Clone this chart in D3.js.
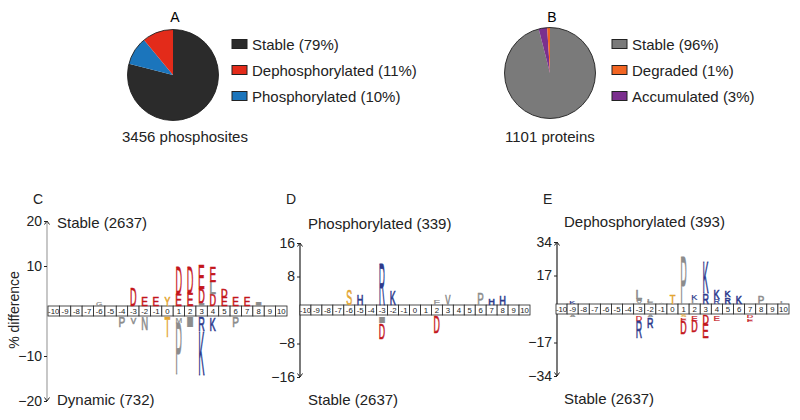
<!DOCTYPE html>
<html><head><meta charset="utf-8">
<script src="https://cdn.jsdelivr.net/npm/d3@7"></script>
<style>body{margin:0;background:#fff}svg{display:block}text{font-family:"Liberation Sans",Arial,sans-serif}</style>
</head><body><svg id="c" width="800" height="420"></svg>
<script>
// ---------- data ----------
const pieALabels = ["Stable (79%)", "Dephosphorylated (11%)", "Phosphorylated (10%)"];
const pieAValues = [79, 11, 10];
const pieAColors = ["#2b2b2b", "#e32b1a", "#1b75bc"];
const pieACaption = "3456 phosphosites";
const pieBLabels = ["Stable (96%)", "Degraded (1%)", "Accumulated (3%)"];
const pieBValues = [96, 1, 3];
const pieBColors = ["#7a7a7a", "#f26522", "#7b2f8e"];
const pieBCaption = "1101 proteins";
const pieOrder = [0, 2, 1]; // clockwise drawing order from 12 o'clock

const positions = [-10,-9,-8,-7,-6,-5,-4,-3,-2,-1,0,1,2,3,4,5,6,7,8,9,10];

// panel C: letters listed from the central row outward (value in % difference)
const cUp = [
  {pos:-6,res:"G",v:0.9},{pos:-3,res:"D",v:4.0},{pos:-2,res:"E",v:2.0},{pos:-1,res:"E",v:2.0},
  {pos:0,res:"Y",v:2.0},{pos:1,res:"E",v:2.5},{pos:1,res:"D",v:6.0},{pos:2,res:"E",v:2.7},{pos:2,res:"D",v:5.8},
  {pos:3,res:"I",v:0.6},{pos:3,res:"D",v:3.0},{pos:3,res:"E",v:5.4},
  {pos:4,res:"D",v:2.5},{pos:4,res:"L",v:2.7},{pos:4,res:"E",v:3.4},
  {pos:5,res:"E",v:2.0},{pos:5,res:"D",v:1.8},{pos:6,res:"E",v:2.0},{pos:7,res:"E",v:2.0},{pos:8,res:"I",v:0.8}
];
const cDown = [
  {pos:-4,res:"P",v:-2.2},{pos:-3,res:"V",v:-1.5},{pos:-2,res:"N",v:-2.7},{pos:0,res:"T",v:-4.5},
  {pos:1,res:"M",v:-1.2},{pos:1,res:"P",v:-11.3},{pos:2,res:"I",v:-2.2},
  {pos:3,res:"R",v:-3.0},{pos:3,res:"K",v:-9.7},{pos:4,res:"K",v:-2.9},{pos:6,res:"P",v:-2.2}
];
const cTicks = [20, 10, -10, -20];

// panel D
const dUp = [
  {pos:-6,res:"S",v:3.8},{pos:-5,res:"H",v:2.4},{pos:-3,res:"R",v:10.0},{pos:-2,res:"K",v:3.2},
  {pos:2,res:"F",v:1.2},{pos:3,res:"V",v:2.4},{pos:6,res:"P",v:2.7},{pos:7,res:"H",v:1.6},{pos:8,res:"H",v:2.0}
];
const dDown = [
  {pos:-3,res:"I",v:-1.6},{pos:-3,res:"D",v:-3.6},{pos:2,res:"D",v:-4.0}
];
const dTicks = [16, 8, -8, -16];

// panel E
const eUp = [
  {pos:-9,res:"K",v:1.1},{pos:-3,res:"V",v:1.2},{pos:-3,res:"I",v:1.0},{pos:-3,res:"L",v:4.2},
  {pos:-2,res:"F",v:1.0},{pos:-2,res:"L",v:1.3},{pos:-1,res:"A",v:0.5},{pos:0,res:"T",v:4.7},
  {pos:1,res:"P",v:24.0},{pos:2,res:"L",v:1.8},{pos:2,res:"K",v:2.2},
  {pos:3,res:"R",v:5.2},{pos:3,res:"K",v:15.7},{pos:4,res:"R",v:2.5},{pos:4,res:"K",v:4.8},
  {pos:5,res:"R",v:3.5},{pos:5,res:"K",v:3.5},{pos:6,res:"K",v:4.0},{pos:8,res:"P",v:4.0},{pos:10,res:"L",v:1.0}
];
const eDown = [
  {pos:-9,res:"A",v:-1.0},{pos:-3,res:"D",v:-2.6},{pos:-3,res:"R",v:-8.7},
  {pos:-2,res:"A",v:-1.0},{pos:-2,res:"R",v:-5.2},
  {pos:1,res:"S",v:-1.0},{pos:1,res:"E",v:-1.4},{pos:1,res:"D",v:-6.5},
  {pos:2,res:"E",v:-2.6},{pos:2,res:"D",v:-5.6},{pos:3,res:"D",v:-4.4},{pos:3,res:"E",v:-7.0},
  {pos:4,res:"E",v:-2.6},{pos:7,res:"D",v:-1.3},{pos:7,res:"E",v:-1.5}
];
const eTicks = [34, 17, -17, -34];

// ---------- drawing ----------
const svg = d3.select("#c");
svg.append("rect").attr("width",800).attr("height",420).attr("fill","#fff");

function residueColor(r){
  if ("DE".includes(r)) return "#c4161c";
  if ("KRH".includes(r)) return "#2e3a8c";
  if ("STY".includes(r)) return "#e3a532";
  return "#8c8c8c";
}

function drawPie(cx, cy, r, values, colors, labels, caption, letter, legX, capX) {
  const g = svg.append("g").attr("transform", `translate(${cx},${cy})`);
  const ordered = pieOrder.map(i => ({v: values[i], c: colors[i]}));
  const arcs = d3.pie().sort(null).value(d => d.v)(ordered);
  const arc = d3.arc().innerRadius(0).outerRadius(r);
  g.selectAll("path").data(arcs).join("path").attr("d", arc)
    .attr("fill", d => d.data.c).attr("stroke", "none");
  g.append("circle").attr("r", r).attr("fill","none").attr("stroke","#222").attr("stroke-width",0.9);
  svg.append("text").attr("x", cx + 2).attr("y", 22).attr("font-size", 14).attr("text-anchor","middle").text(letter);
  const ly = d3.scalePoint().domain(labels).range([44, 96]);
  labels.forEach((lab, i) => {
    svg.append("rect").attr("x", legX).attr("y", ly(lab) - 4.5).attr("width", 15).attr("height", 9)
      .attr("fill", colors[i]).attr("stroke", "#222").attr("stroke-width", 1);
    svg.append("text").attr("x", legX + 20).attr("y", ly(lab) + 5.5).attr("font-size", 15).attr("fill","#222").text(lab);
  });
  svg.append("text").attr("x", capX).attr("y", 142).attr("font-size", 15).attr("fill","#222").text(caption);
}

drawPie(173, 75, 45.5, pieAValues, pieAColors, pieALabels, pieACaption, "A", 232, 122);
drawPie(550, 73, 45.5, pieBValues, pieBColors, pieBLabels, pieBCaption, "B", 612, 505);

// glyph metrics
const mctx = document.createElement("canvas").getContext("2d");
mctx.font = '100px "Liberation Sans"';
function drawLetter(g, ch, x0, y0, w, h, color) {
  if (h < 0.3) return;
  const m = mctx.measureText(ch);
  const l = m.actualBoundingBoxLeft, r = m.actualBoundingBoxRight;
  const a = m.actualBoundingBoxAscent, d = m.actualBoundingBoxDescent;
  const sx = w / (l + r), sy = h / (a + d);
  g.append("text").text(ch).attr("font-size", 100).attr("fill", color)
    .attr("stroke", color).attr("stroke-width", h > 6 ? 0.55 : 0.25).attr("vector-effect", "non-scaling-stroke")
    .attr("transform", `translate(${x0 + l * sx},${y0 + a * sy}) scale(${sx},${sy})`);
}

function drawLogo(opt) {
  const g = svg.append("g");
  const y = d3.scaleLinear().domain([-opt.max, opt.max]).range([opt.yBottom, opt.yTop]);
  const x = d3.scaleBand().domain(positions).range([opt.x0, opt.x1]);
  const y0 = y(0), rowTop = y0 - 5, rowBot = y0 + 5;
  const axisColor = opt.axisColor;
  // axis line with arrows
  g.append("line").attr("x1", opt.axisX).attr("x2", opt.axisX).attr("y1", y(opt.max)).attr("y2", y(-opt.max))
    .attr("stroke", axisColor).attr("stroke-width", 1.3);
  const ah = 3.5;
  g.append("path").attr("d", `M${opt.axisX-2.5},${y(opt.max)+ah}L${opt.axisX},${y(opt.max)}L${opt.axisX+2.5},${y(opt.max)+ah}`)
    .attr("fill","none").attr("stroke","#222").attr("stroke-width",1);
  g.append("path").attr("d", `M${opt.axisX-2.5},${y(-opt.max)-ah}L${opt.axisX},${y(-opt.max)}L${opt.axisX+2.5},${y(-opt.max)-ah}`)
    .attr("fill","none").attr("stroke","#222").attr("stroke-width",1);
  const ax = g.append("g").attr("transform", `translate(${opt.axisX},0)`)
    .call(d3.axisLeft(y).tickValues(opt.ticks).tickSize(3).tickPadding(2).tickFormat(d3.format("d")));
  ax.select(".domain").remove();
  ax.selectAll(".tick line").attr("stroke", "#222");
  ax.selectAll(".tick text").attr("font-size", 14).attr("fill", "#222").attr("font-family", '"Liberation Sans",Arial,sans-serif');
  // titles
  g.append("text").attr("x", opt.axisX - 14).attr("y", 204).attr("font-size", 14).attr("fill","#222").text(opt.letter);
  g.append("text").attr("x", opt.titleX).attr("y", opt.topTitleY).attr("font-size", 15).attr("fill","#222").text(opt.topTitle);
  g.append("text").attr("x", opt.titleX).attr("y", opt.botTitleY).attr("font-size", 15).attr("fill","#222").text(opt.botTitle);
  // position row
  const row = g.append("g");
  positions.forEach(p => {
    row.append("rect").attr("x", x(p)).attr("y", rowTop).attr("width", x.bandwidth()).attr("height", rowBot - rowTop)
      .attr("fill", "#fff").attr("stroke", "#222").attr("stroke-width", 0.8);
    row.append("text").attr("x", x(p) + x.bandwidth() / 2).attr("y", rowBot - 2).attr("text-anchor", "middle")
      .attr("font-size", 7.8).attr("fill","#222").text(p);
  });
  // letters
  const lw = x.bandwidth() * 0.48;
  const upCur = {}, dnCur = {};
  opt.up.forEach(d => {
    const h = y0 - y(d.v);
    const cur = upCur[d.pos] ?? rowTop;
    drawLetter(g, d.res, x(d.pos) + (x.bandwidth() - lw) / 2, cur - h, lw, h, residueColor(d.res));
    upCur[d.pos] = cur - h - 0.5;
  });
  opt.down.forEach(d => {
    const h = y(d.v) - y0;
    const cur = dnCur[d.pos] ?? rowBot + 1.5;
    drawLetter(g, d.res, x(d.pos) + (x.bandwidth() - lw) / 2, cur, lw, h, residueColor(d.res));
    dnCur[d.pos] = cur + h + 0.5;
  });
}

drawLogo({letter:"C", max:20, yTop:221, yBottom:401, x0:48, x1:287, axisX:47, ticks:cTicks, axisColor:"#aaa",
  up:cUp, down:cDown, titleX:57, topTitle:"Stable (2637)", topTitleY:228, botTitle:"Dynamic (732)", botTitleY:405});
drawLogo({letter:"D", max:16, yTop:243, yBottom:377, x0:300, x1:530, axisX:300, ticks:dTicks, axisColor:"#333",
  up:dUp, down:dDown, titleX:308, topTitle:"Phosphorylated (339)", topTitleY:229, botTitle:"Stable (2637)", botTitleY:405});
drawLogo({letter:"E", max:34, yTop:242, yBottom:376, x0:556, x1:789, axisX:557, ticks:eTicks, axisColor:"#333",
  up:eUp, down:eDown, titleX:564, topTitle:"Dephosphorylated (393)", topTitleY:227, botTitle:"Stable (2637)", botTitleY:404});

svg.append("text").attr("transform", "translate(19,310) rotate(-90)").attr("text-anchor","middle")
  .attr("font-size", 14).attr("fill","#222").text("% difference");
</script></body></html>
